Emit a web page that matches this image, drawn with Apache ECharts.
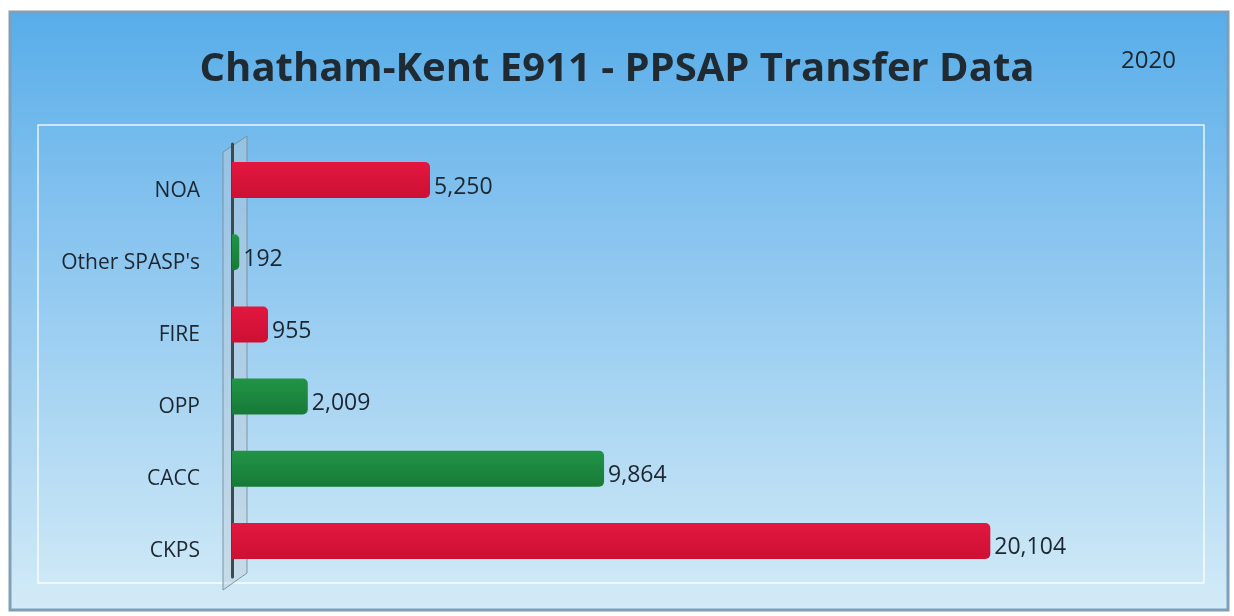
<html lang="en">
<head>
<meta charset="UTF-8">
<title>Chatham-Kent E911 - PPSAP Transfer Data</title>
<script src="https://cdn.jsdelivr.net/npm/echarts@6/dist/echarts.min.js"></script>
<style>
  html, body { margin: 0; padding: 0; background: #ffffff; }
  #main { width: 1234px; height: 616px; }
</style>
</head>
<body>
<div id="main"></div>
<script type="text/javascript">
// categories bottom to top (ECharts category y axis starts at the bottom)
var categories = ['CKPS', 'CACC', 'OPP', 'FIRE', "Other SPASP's", 'NOA'];
var transfers = [20104, 9864, 2009, 955, 192, 5250];
var barColors = ['red', 'green', 'green', 'red', 'green', 'red'];

var red = new echarts.graphic.LinearGradient(0, 0, 0, 1, [
    { offset: 0, color: '#e3173f' },
    { offset: 1, color: '#cc1034' }
]);
var green = new echarts.graphic.LinearGradient(0, 0, 0, 1, [
    { offset: 0, color: '#219446' },
    { offset: 1, color: '#177a37' }
]);

var myChart = echarts.init(document.getElementById('main'));

var option = {
    backgroundColor: '#ffffff',
    graphic: [
        // outer frame with the blue gradient
        {
            type: 'rect', z: -10,
            shape: { x: 10, y: 12, width: 1218, height: 598 },
            style: {
                fill: new echarts.graphic.LinearGradient(0, 0, 0, 1, [
                    { offset: 0, color: '#57ade9' },
                    { offset: 0.3, color: '#80c0ee' },
                    { offset: 1, color: '#d3ebf7' }
                ]),
                stroke: '#7f9fb8', lineWidth: 3
            }
        },
        // inner plot border
        {
            type: 'rect', z: -9,
            shape: { x: 38, y: 125, width: 1166, height: 458 },
            style: { fill: 'none', stroke: 'rgba(255,255,255,0.85)', lineWidth: 1.5 }
        },
        // the 3D wall behind the category axis
        {
            type: 'polygon', z: -8,
            shape: { points: [[223, 152], [247, 136], [247, 573], [223, 590]] },
            style: { fill: 'rgba(190,205,215,0.45)', stroke: 'rgba(120,140,155,0.9)', lineWidth: 1 }
        },
        {
            type: 'text', z: 5,
            left: 1121, top: 49,
            style: { text: '2020', font: '24px "Open Sans", sans-serif', fill: '#1c2630' }
        }
    ],
    title: {
        text: 'Chatham-Kent E911 - PPSAP Transfer Data',
        left: 'center',
        top: 45,
        textStyle: {
            fontFamily: '"Open Sans", sans-serif',
            fontSize: 40,
            fontWeight: 'bold',
            color: '#1f2a33'
        }
    },
    grid: {
        left: 232,
        right: 59,
        top: 144,
        bottom: 39
    },
    xAxis: {
        type: 'value',
        min: 0,
        max: 25000,
        show: false
    },
    yAxis: {
        type: 'category',
        data: categories,
        axisLine: { show: true, lineStyle: { color: '#3d4a52', width: 3 } },
        axisTick: { show: false },
        axisLabel: {
            margin: 32,
            verticalAlign: 'top',
            fontFamily: '"Open Sans", sans-serif',
            fontSize: 21,
            color: '#1c2630'
        }
    },
    series: [{
        type: 'bar',
        barWidth: 36,
        data: transfers.map(function (v, i) {
            return {
                value: v,
                itemStyle: { color: barColors[i] === 'red' ? red : green }
            };
        }),
        itemStyle: { borderRadius: [0, 5, 5, 0] },
        label: {
            show: true,
            position: 'right',
            distance: 4,
            offset: [0, 7],
            fontFamily: '"Open Sans", sans-serif',
            fontSize: 23,
            color: '#1c2630',
            formatter: function (p) { return p.value.toLocaleString('en-US'); }
        }
    }]
};

myChart.setOption(option);
</script>
</body>
</html>
